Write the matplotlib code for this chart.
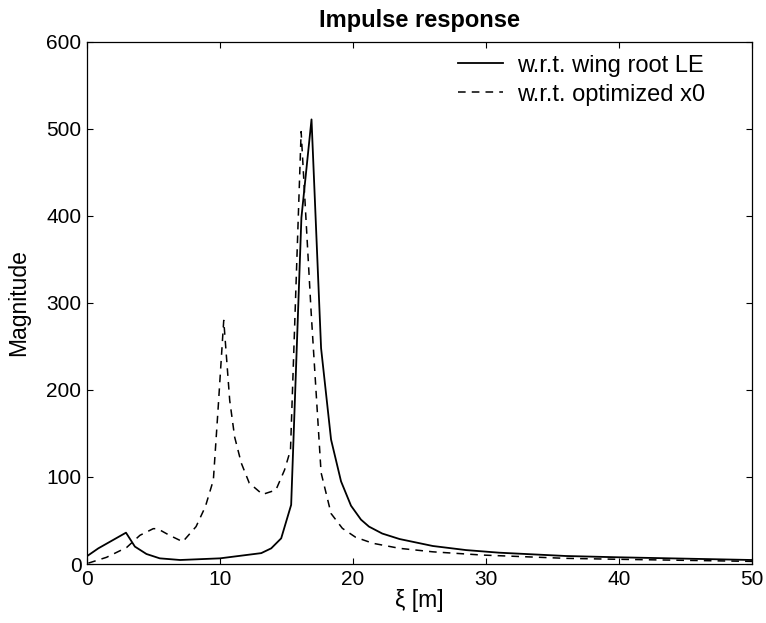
import numpy as np
import matplotlib
matplotlib.use("Agg")
import matplotlib.pyplot as plt

plt.rcParams['font.family'] = ['Liberation Sans', 'DejaVu Sans']

# ==================== DATA ====================
xi_root = [0.0, 0.85, 2.93, 3.6, 4.47, 5.47, 7.0, 10.0, 13.1, 13.85, 14.6, 15.35,
           16.12, 16.88, 17.6, 18.35, 19.1, 19.85, 20.6, 21.2, 22.2, 23.5, 26.0,
           28.5, 31.0, 36.0, 40.0, 50.0]
mag_root = [9, 18, 36, 20, 11.5, 6.5, 4.6, 6.5, 12.5, 18, 29.5, 68,
            398, 511, 248, 143, 95, 67, 51, 43, 35, 28.7, 20.7,
            16, 13, 9.2, 7.7, 4.6]

xi_opt = [0.1, 1.47, 2.98, 3.98, 4.98, 5.3, 6.2, 7.2, 8.2, 8.9, 9.5, 9.85, 10.28,
          10.73, 11.1, 11.6, 12.2, 13.2, 14.2, 14.85, 15.3, 16.1, 16.85, 17.6,
          18.35, 19.2, 20.2, 21.5, 23.5, 26.0, 29.7, 36.0, 40.0, 50.0]
mag_opt = [1, 7.7, 19, 33, 40.6, 40.6, 33, 25.6, 43, 66, 96.5, 177, 280,
           188, 146, 116, 93, 80, 85, 108, 131, 497, 290, 105,
           58, 41, 30.7, 23.8, 18, 14, 10.3, 6.5, 5.4, 3]

# ==================== FIGURE ====================
fig = plt.figure(figsize=(7.66, 6.23), dpi=100)
ax = fig.add_axes([0.1136, 0.0947, 0.8681, 0.8379])

ax.plot(xi_root, mag_root, 'k-', lw=1.3, label='w.r.t. wing root LE')
ax.plot(xi_opt, mag_opt, 'k--', lw=1.1, dashes=(5, 4), label='w.r.t. optimized x0')

ax.set_xlim(0, 50)
ax.set_ylim(0, 600)
ax.set_xticks(np.arange(0, 51, 10))
ax.set_yticks(np.arange(0, 601, 100))
ax.tick_params(direction='in', top=True, right=True, labelsize=15, length=4.5, width=0.8, pad=4)
for s in ax.spines.values():
    s.set_linewidth(0.9)

ax.set_xlabel('ξ [m]', fontsize=16.5, labelpad=0)
ax.set_ylabel('Magnitude', fontsize=16.5, labelpad=12)
ax.set_title('Impulse response', fontsize=17, fontweight='bold', pad=11)

ax.legend(loc='upper left', frameon=False, fontsize=17, handlelength=1.9,
          handletextpad=0.6, labelspacing=0.3, borderaxespad=0, borderpad=0,
          bbox_to_anchor=(0.558, 0.976))

fig.savefig('out.png', dpi=100)
